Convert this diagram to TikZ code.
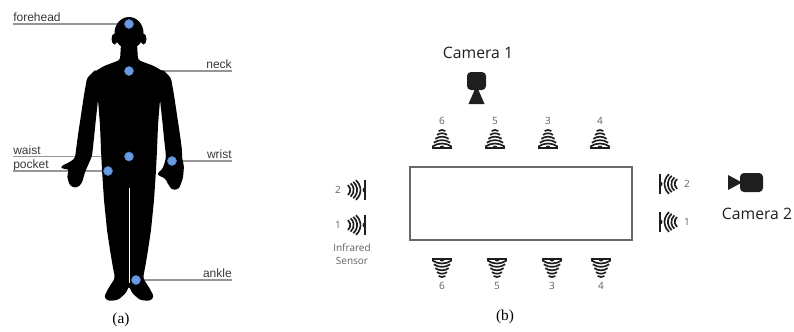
\documentclass[tikz,border=0pt]{standalone}
\usepackage{fontspec}
\newfontfamily\labelfont{Liberation Sans}
\newfontfamily\iconfont{Open Sans}
\newfontfamily\capfont{Liberation Serif}
\definecolor{dotblue}{RGB}{105,155,225}
\definecolor{dotrim}{RGB}{75,120,195}
\definecolor{leadgray}{RGB}{150,150,150}
\definecolor{labelgray}{RGB}{55,55,55}
\definecolor{boxgray}{RGB}{105,105,105}
\definecolor{inkgray}{RGB}{30,30,30}
\definecolor{numgray}{RGB}{95,95,95}
\tikzset{
  body/.style={fill=black,rounded corners=2pt},
  lead/.style={draw=leadgray,line width=0.9pt},
  part label/.style={font=\labelfont\fontsize{9}{10}\selectfont,text=labelgray,inner sep=0pt},
  marker/.style={
    circle,
    fill=dotblue,
    draw=dotrim,
    line width=0.4pt,
    minimum size=6.8pt,
    inner sep=0pt
  },
  sensor line/.style={draw=inkgray,line width=1.25pt},
  sensor num/.style={font=\iconfont\fontsize{7.5}{9.75}\selectfont,text=numgray,inner sep=0pt},
  camera label/.style={font=\iconfont\fontsize{11.8}{13}\selectfont,text=inkgray,inner sep=0pt},
  panel tag/.style={font=\capfont\fontsize{11.5}{13}\selectfont,inner sep=0pt}
}
% #1,#2: centre of the base, #3: rotation, #4: node name, #5: number,
% #6: 1 = waves bulge away from the base, -1 = towards it, #7: last wave
\newcommand{\irsensor}[7]{%
  \begin{scope}[shift={(#1,#2)}]
    \begin{scope}[x=0.75pt,y=0.75pt,rotate=#3]
      \draw[sensor line,line width=1.3pt] (-10,0) -- (10,0);
      \fill[inkgray] (-2.5,0) arc[start angle=180,end angle=0,radius=2.5];
      \pgfmathsetmacro{\a}{#6>0 ? 36 : 50}
      \foreach \i in {0,...,#7} {
        \pgfmathsetmacro{\h}{4.5+3.4*\i}
        \pgfmathsetmacro{\r}{(9.8-1.6*\i)/sin(\a)}
        \pgfmathsetmacro{\c}{\h-#6*\r}
        \pgfmathsetmacro{\s}{180-90*#6-\a}
        \draw[sensor line] (0,\c) ++(\s:\r)
          arc[start angle=\s,delta angle={2*\a},radius=\r];
      }
      \node[sensor num] (#4) at (0,27) {#5};
    \end{scope}
  \end{scope}%
}

\begin{document}
\begin{tikzpicture}[x=0.75pt,y=-0.75pt]
  \useasboundingbox (0,0) rectangle (794,332);

  % (a) sensor positions on the body
  \coordinate (forehead) at (129,24);
  \coordinate (neck) at (129,71);
  \coordinate (waist) at (129,156.5);
  \coordinate (pocket) at (108,171);
  \coordinate (wrist) at (172,161);
  \coordinate (ankle) at (136,280);

  \node[part label,anchor=base west] (forehead-label) at (13,21.5) {forehead};
  \node[part label,anchor=base west] (waist-label) at (13,154) {waist};
  \node[part label,anchor=base west] (pocket-label) at (13,168.5) {pocket};
  \node[part label,anchor=base east] (neck-label) at (232,68.5) {neck};
  \node[part label,anchor=base east] (wrist-label) at (232,158.5) {wrist};
  \node[part label,anchor=base east] (ankle-label) at (232,277.5) {ankle};

  % lead lines go under the silhouette
  \foreach \p in {forehead,waist,pocket}
    \draw[lead] (\p) -- (\p-label.west |- \p);
  \foreach \p in {neck,wrist,ankle}
    \draw[lead] (\p) -- (\p-label.east |- \p);

  % silhouette
  \fill (129,33) ellipse [x radius=14.5, y radius=16];
  \fill (114.5,39) ellipse [x radius=3, y radius=5.5];
  \fill (143.5,39) ellipse [x radius=3, y radius=5.5];
  \fill[body] (121,44) -- (120,60) -- (104,66) -- (94,72) -- (92,85) -- (98,100)
    -- (100,125) -- (101,150) -- (102,170) -- (104,200) -- (107,230) -- (110,250)
    -- (113,268) -- (115,278) -- (108,289) -- (104,297) -- (108,301) -- (118,300)
    -- (126,293) -- (129,286) -- (132,293) -- (140,300) -- (150,301) -- (154,297)
    -- (150,289) -- (143,278) -- (145,268) -- (148,250) -- (151,230) -- (154,200)
    -- (156,170) -- (157,150) -- (158,125) -- (160,100) -- (166,85) -- (164,72)
    -- (154,66) -- (138,60) -- (137,44) -- cycle;
  \fill[body] (96,69) -- (87,78) -- (84,95) -- (81,115) -- (78,135) -- (76,150)
    -- (75,158) -- (70,162) -- (61,166) -- (62,169) -- (69,169) -- (67,177)
    -- (70,186) -- (77,188) -- (82,183) -- (85,172) -- (89,163) -- (92,156)
    -- (94,138) -- (96,118) -- (98,100) -- cycle;
  \fill[body] (162,69) -- (171,78) -- (174,95) -- (177,115) -- (180,135) -- (182,150)
    -- (182,158) -- (184,166) -- (183,178) -- (179,189) -- (172,190) -- (168,184)
    -- (165,178) -- (159,176) -- (157,173) -- (162,170) -- (165,162) -- (166,156)
    -- (164,138) -- (162,118) -- (160,100) -- cycle;
  \draw[white,line width=0.8pt] (129.5,188) -- (129.5,283);

  \foreach \p in {forehead,neck,waist,pocket,wrist,ankle}
    \node[marker] (\p-dot) at (\p) {};

  \node[panel tag] (tag-a) at (121,320) {(a)};

  % (b) room layout
  \draw[draw=boxgray,line width=1.1pt] (410,167) rectangle (632,240);

  \node[camera label] (cam1-label) at (478,53) {Camera 1};
  \fill[inkgray,rounded corners=3pt] (467,72) rectangle (486,90);
  \fill[inkgray] (475,89) -- (478,89) -- (484.5,104) -- (468.5,104) -- cycle;

  \node[camera label] (cam2-label) at (757,214) {Camera 2};
  \fill[inkgray,rounded corners=3pt] (740,173) rectangle (763,192);
  \fill[inkgray] (728,175) -- (742,182.5) -- (728,190) -- cycle;

  \foreach \x/\n in {442/6,495/5,548/3,600/4} {
    \irsensor{\x}{148}{0}{top\n}{\n}{1}{4}
  }
  \foreach \x/\n in {442/6,497/5,552/3,601/4} {
    \irsensor{\x}{259}{180}{bot\n}{\n}{1}{4}
  }
  \foreach \y/\n in {190/2,225/1} {
    \irsensor{365}{\y}{90}{left\n}{\n}{-1}{3}
  }
  \foreach \y/\n in {184/2,222/1} {
    \irsensor{660}{\y}{-90}{right\n}{\n}{-1}{3}
  }

  \node[sensor num,align=center] (ir-label) at (352,254) {Infrared\\Sensor};

  \node[panel tag] (tag-b) at (505,317) {(b)};
\end{tikzpicture}
\end{document}
